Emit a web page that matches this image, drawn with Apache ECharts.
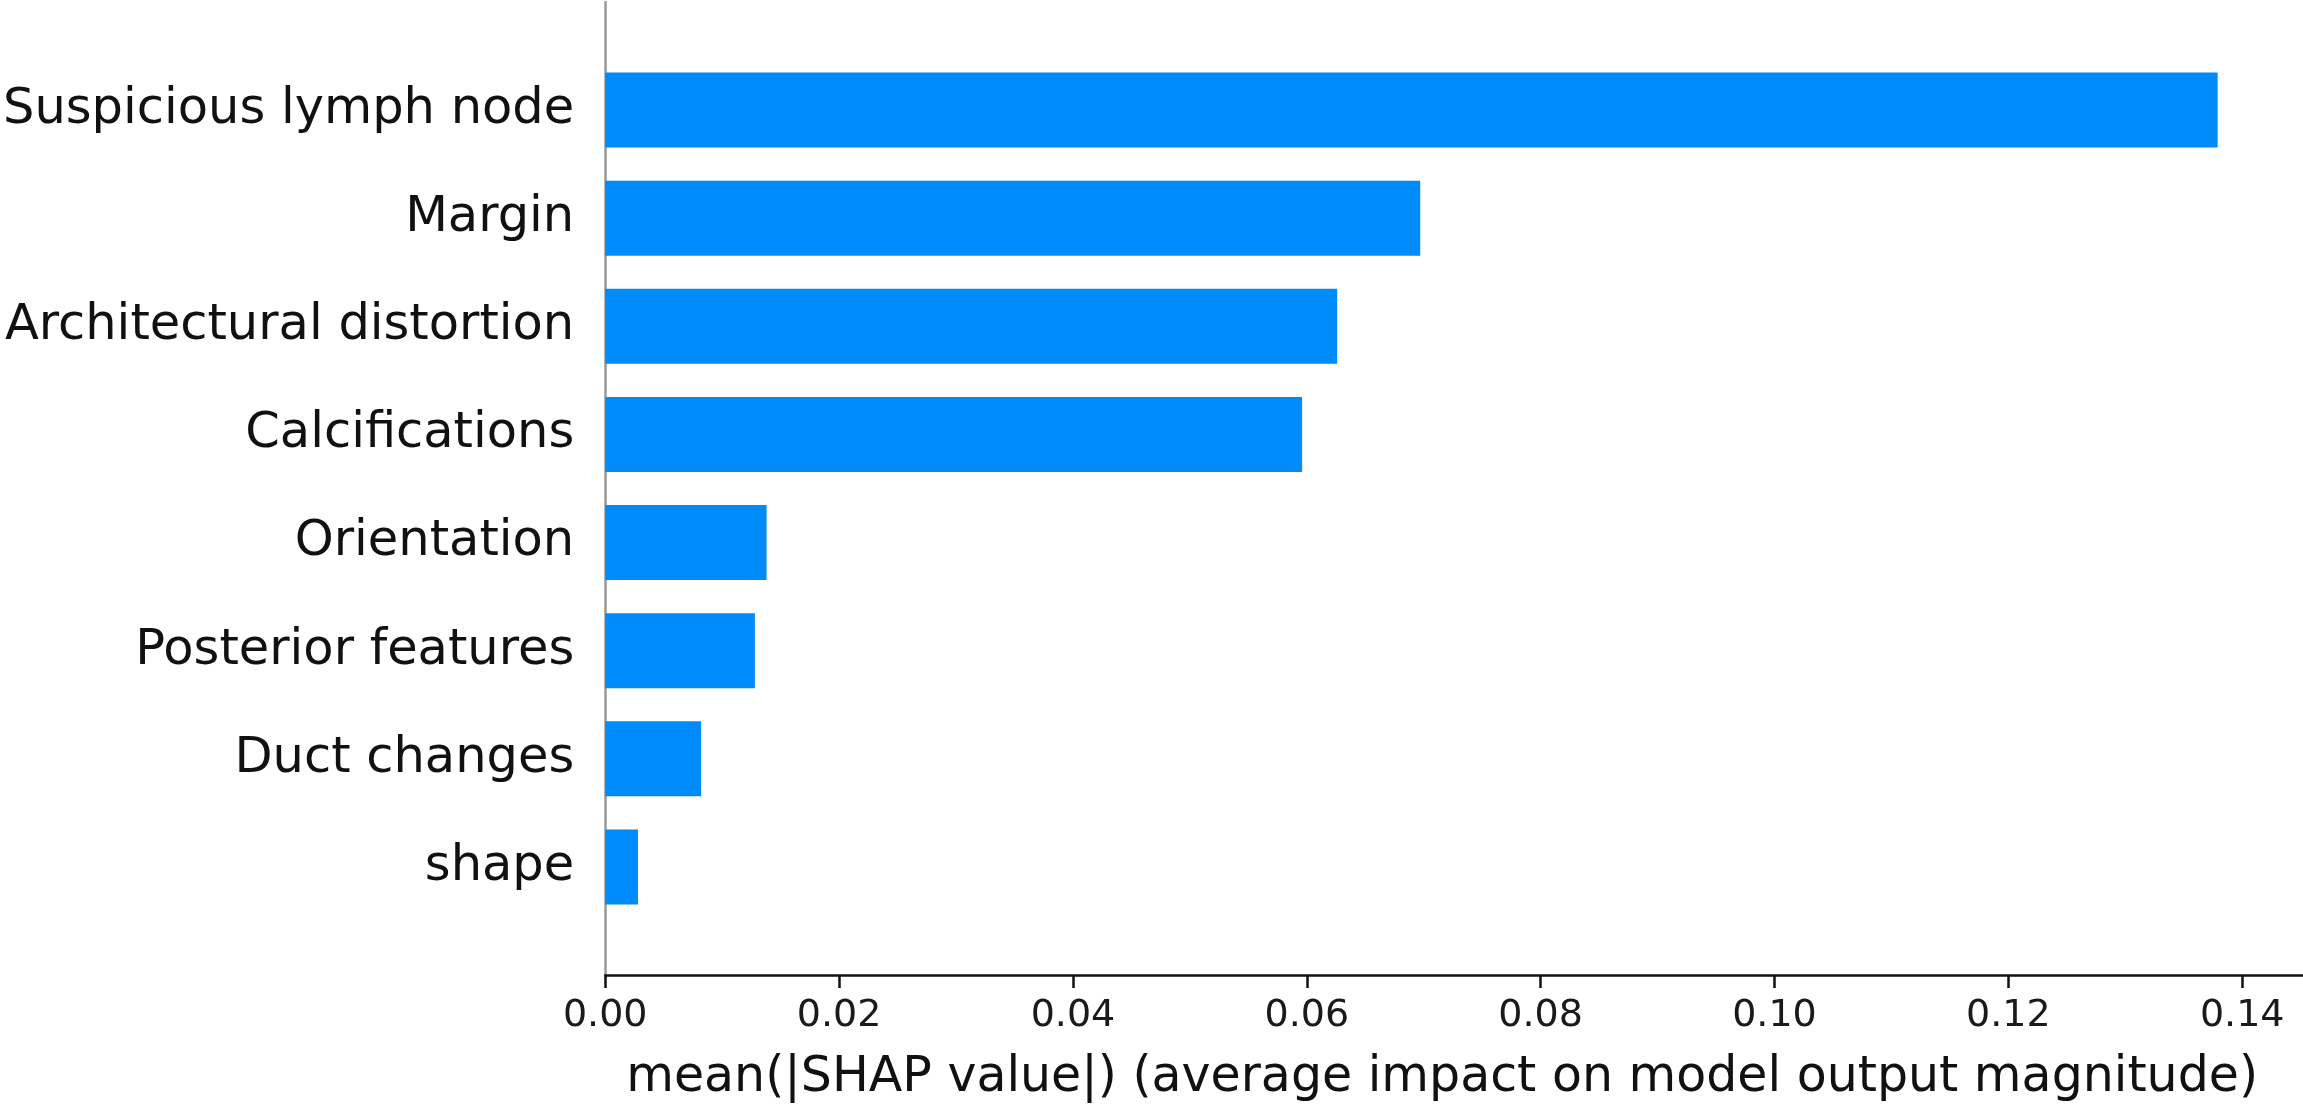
<!DOCTYPE html>
<html>
<head>
<meta charset="utf-8">
<script src="https://cdn.jsdelivr.net/npm/echarts@6/dist/echarts.min.js"></script>
<style>
html,body{margin:0;padding:0;background:#fff;}
#chart{width:2303px;height:1108px;}
</style>
</head>
<body>
<div id="chart"></div>
<script>
// Features listed from bottom to top (as drawn on the y axis)
const features = ['shape', 'Duct changes', 'Posterior features', 'Orientation', 'Calcifications', 'Architectural distortion', 'Margin', 'Suspicious lymph node'];
const meanAbsShap = [0.0028, 0.0082, 0.0128, 0.0138, 0.0596, 0.0626, 0.0697, 0.1379];
const xTicks = [0.00, 0.02, 0.04, 0.06, 0.08, 0.10, 0.12, 0.14];
const xAxisTitle = 'mean(|SHAP value|) (average impact on model output magnitude)';

// pad one empty slot at each end so the range spans -1 .. n
const categories = [''].concat(features, ['']);
const values = [null].concat(meanAbsShap, [null]);

const chart = echarts.init(document.getElementById('chart'), null, {renderer: 'canvas'});
const font = 'DejaVu Sans';
chart.setOption({
  animation: false,
  backgroundColor: '#ffffff',
  grid: {left: 603, right: 0, top: 2, bottom: 132, containLabel: false},
  xAxis: {
    type: 'value',
    min: 0,
    max: 0.1452,
    interval: 0.02,
    name: xAxisTitle,
    nameLocation: 'middle',
    nameGap: 79,
    nameTextStyle: {fontFamily: font, fontSize: 49, color: '#111', padding: [0, 24, 0, 0]},
    axisLine: {show: true, lineStyle: {color: '#111', width: 2.5}},
    axisTick: {show: true, length: 13, lineStyle: {color: '#111', width: 2.5}},
    axisLabel: {
      fontFamily: font, fontSize: 38, color: '#1a1a1a', margin: 22,
      showMaxLabel: false,
      formatter: v => {
        const m = xTicks.find(t => Math.abs(t - v) < 1e-9);
        return m === undefined ? '' : m.toFixed(2);
      }
    },
    splitLine: {show: false}
  },
  yAxis: {
    type: 'category',
    data: categories,
    boundaryGap: false,
    axisLine: {show: true, lineStyle: {color: '#999', width: 2.5}},
    axisTick: {show: false},
    axisLabel: {fontFamily: font, fontSize: 49.5, color: '#111', margin: 31},
    splitLine: {show: false}
  },
  series: [{
    type: 'bar',
    data: values,
    barWidth: 75,
    itemStyle: {color: '#008bfb'},
    emphasis: {disabled: true}
  }]
});
</script>
</body>
</html>
